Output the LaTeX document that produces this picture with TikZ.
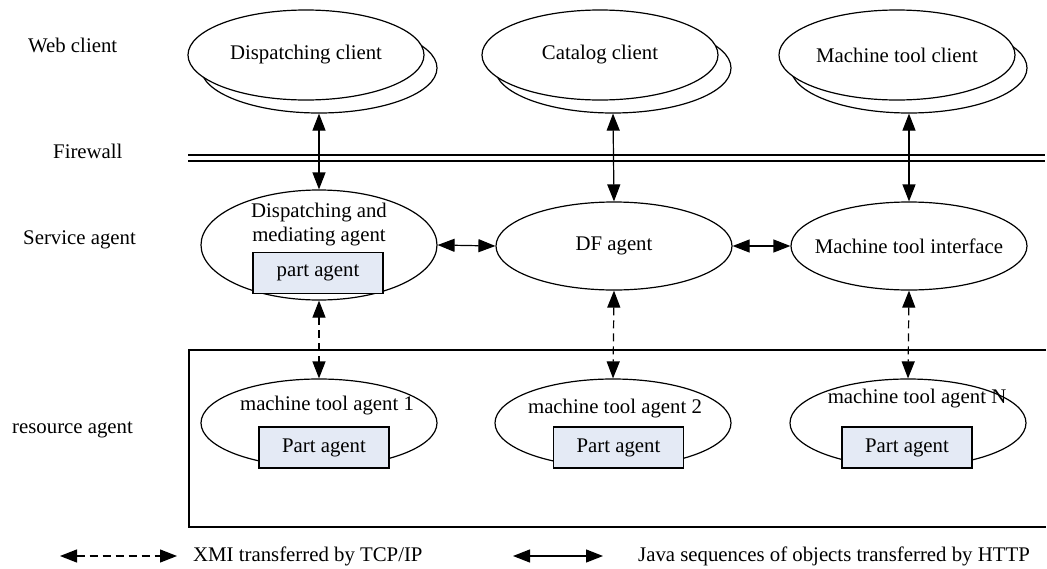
\documentclass[tikz,border=0pt]{standalone}
\usepackage{fontspec}
\setmainfont{Liberation Serif}
\usetikzlibrary{shapes.geometric,arrows.meta}
\definecolor{boxfill}{RGB}{228,234,245}
\tikzset{
  lw/.style={line width=1.2pt},
  ell/.style={ellipse, draw, lw, fill=white, inner sep=0pt, minimum width=236pt},
  partbox/.style={rectangle, draw, lw, fill=boxfill, inner sep=0pt, minimum width=130pt, minimum height=41pt},
  txt/.style={inner sep=0pt, font=\fontsize{20.8}{24}\selectfont},
  solidarr/.style={lw, {Triangle[length=17pt,width=13pt]}-{Triangle[length=17pt,width=13pt]}},
  dasharr/.style={solidarr, dash pattern=on 8pt off 5pt},
}
\begin{document}
\begin{tikzpicture}[x=1pt,y=-1pt]
\useasboundingbox (0,0) rectangle (1047,568);
% left labels
\node[txt, anchor=west] (lweb) at (28,45) {Web client};
\node[txt, anchor=west] (lfire) at (53,151) {Firewall};
\node[txt, anchor=west] (lserv) at (23,240) {Service agent};
\node[txt, anchor=west] (lres) at (12,430) {resource agent};
% firewall
\draw[lw] (188,155) -- (1045,155);
\draw[lw] (188,161) -- (1045,161);
% resource frame
\draw[lw] (1046,350) -- (189,350) -- (189,527) -- (1046,527);
% web clients
\node[ell, minimum height=90pt] (dcb) at (319,68) {};
\node[ell, minimum height=90pt] (dc) at (306,55) {};
\node[txt] (dct) at (306,55) {Dispatching client};
\node[ell, minimum height=90pt] (ccb) at (613,68) {};
\node[ell, minimum height=90pt] (cc) at (600,55) {};
\node[txt] (cct) at (600,55) {Catalog client};
\node[ell, minimum height=90pt] (mcb) at (909,68) {};
\node[ell, minimum height=90pt] (mc) at (897,55) {};
\node[txt] (mct) at (897,55) {Machine tool client};
% service agents
\node[ell, minimum height=110pt] (dma) at (319,245) {};
\node[txt, align=center] (dmat) at (319,225) {Dispatching and\\mediating agent};
\node[partbox] (pa0) at (318,273) {};
\node[txt] (pa0t) at (318,273) {part agent};
\node[ell, minimum height=88pt] (df) at (614,246) {};
\node[txt] (dft) at (614,246) {DF agent};
\node[ell, minimum height=88pt] (mti) at (909,246) {};
\node[txt] (mtit) at (909,246) {Machine tool interface};
% resource agents
\node[ell, minimum height=88pt] (ma1) at (319,423) {};
\node[txt] (ma1t) at (327,406) {machine tool agent 1};
\node[partbox] (pa1) at (324,447.5) {};
\node[txt] (pa1t) at (324,447.5) {Part agent};
\node[ell, minimum height=88pt] (ma2) at (613,423) {};
\node[txt] (ma2t) at (615,409) {machine tool agent 2};
\node[partbox] (pa2) at (618.5,447.5) {};
\node[txt] (pa2t) at (618.5,447.5) {Part agent};
\node[ell, minimum height=88pt] (ma3) at (908,423) {};
\node[txt] (ma3t) at (917,399) {machine tool agent N};
\node[partbox] (pa3) at (907,447.5) {};
\node[txt] (pa3t) at (907,447.5) {Part agent};
% connectors
\draw[solidarr] (dcb.south) -- (dma.north);
\draw[solidarr] (ccb.south) -- (df.north);
\draw[solidarr] (mcb.south) -- (mti.north);
\draw[solidarr] (dma.east) -- (df.west);
\draw[solidarr] (df.east) -- (mti.west);
\draw[dasharr] (dma.south) -- (ma1.north);
\draw[dasharr] (df.south) -- (ma2.north);
\draw[dasharr] (mti.south) -- (ma3.north);
% legend
\coordinate (l1a) at (60,556);
\coordinate (l1b) at (177,556);
\draw[dasharr] (l1a) -- (l1b);
\node[txt, anchor=west] (l1t) at (193,556) {XMI transferred by TCP/IP};
\coordinate (l2a) at (513,556);
\coordinate (l2b) at (603,556);
\draw[solidarr] (l2a) -- (l2b);
\node[txt, anchor=west] (l2t) at (638,556) {Java sequences of objects transferred by HTTP};
\end{tikzpicture}
\end{document}
